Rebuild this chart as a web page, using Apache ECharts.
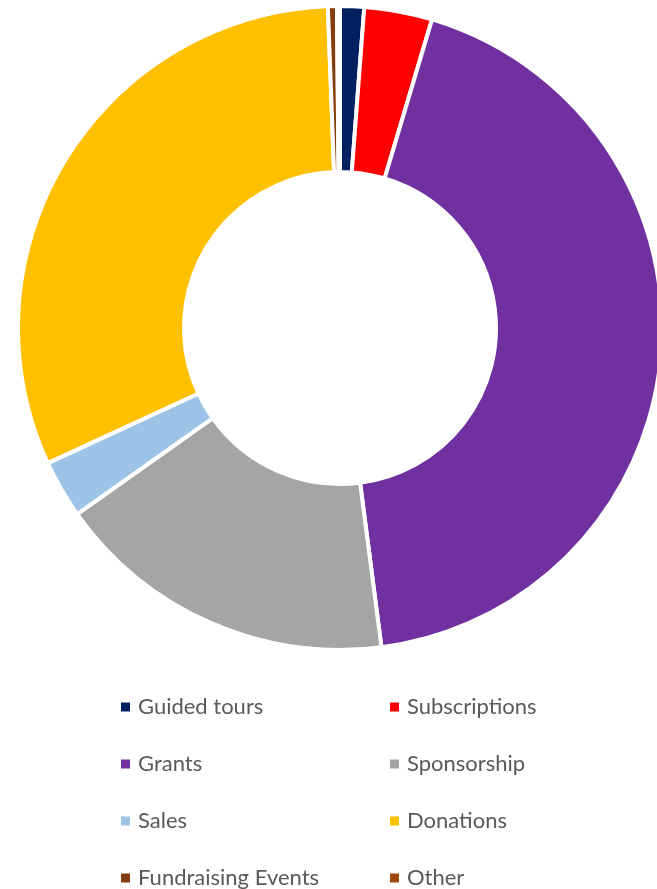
<!DOCTYPE html>
<html>
<head>
<meta charset="utf-8">
<script src="https://cdn.jsdelivr.net/npm/echarts@6/dist/echarts.min.js"></script>
<style>
    html, body { margin: 0; padding: 0; background: #fff; }
    #incomepie { width: 657px; height: 889px; }
</style>
</head>
<body>
<div id="incomepie"></div>
<script>
// 数据
var categories = ['Guided tours', 'Subscriptions', 'Grants', 'Sponsorship', 'Sales', 'Donations', 'Fundraising Events', 'Other'];
var values = [1.2, 3.4, 43.2, 17.2, 2.9, 31.2, 0.45, 0.15];
var colors = ['#002060', '#FF0000', '#7030A0', '#A5A5A5', '#9DC3E6', '#FFC000', '#843C0C', '#9E480E'];

var leftColumn = [categories[0], categories[2], categories[4], categories[6]];
var rightColumn = [categories[1], categories[3], categories[5], categories[7]];

var incomepieObj = document.getElementById('incomepie');
var incomepieChart = echarts.init(incomepieObj);

var pieData = [];
for (var i = 0; i < categories.length; i++) {
    pieData.push({ name: categories[i], value: values[i] });
}

var legendText = {
    color: '#595959',
    fontSize: 22,
    fontFamily: 'Lato',
    lineHeight: 22,
    padding: [0, 0, 0, 2]
};

function makeLegend(left, names) {
    return {
        orient: 'vertical',
        left: left,
        top: 696,
        height: 200,
        padding: 0,
        itemWidth: 11,
        itemHeight: 11,
        itemGap: 35,
        icon: 'rect',
        data: names,
        textStyle: legendText
    };
}

var incomepieOption = {
    animation: false,
    color: colors,
    legend: [
        makeLegend(119, leftColumn),
        makeLegend(388, rightColumn)
    ],
    series: [
        {
            name: 'Income',
            type: 'pie',
            center: [340, 328],
            radius: [156, 322],
            startAngle: 90,
            clockwise: true,
            avoidLabelOverlap: false,
            label: { show: false },
            labelLine: { show: false },
            itemStyle: {
                borderColor: '#ffffff',
                borderWidth: 4
            },
            emphasis: { disabled: true },
            data: pieData
        }
    ]
};
incomepieChart.setOption(incomepieOption);
</script>
</body>
</html>
